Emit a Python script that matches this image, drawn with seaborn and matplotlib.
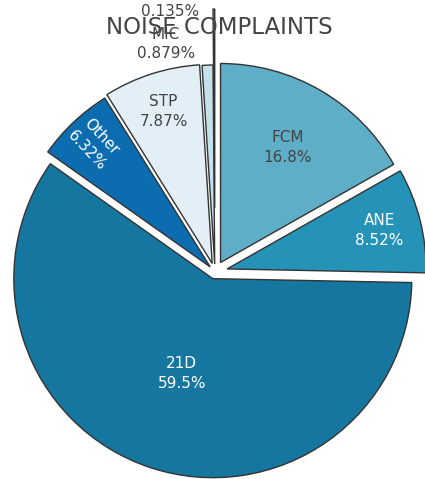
import numpy as np
import matplotlib
matplotlib.use("Agg")
import matplotlib.pyplot as plt
import seaborn as sns

# ---- data ----
labels = ["FCM", "ANE", "21D", "Other", "STP", "MIC", "HPD"]
values = [16.8, 8.52, 59.5, 6.32, 7.87, 0.879, 0.135]
pct_text = ["16.8%", "8.52%", "59.5%", "6.32%", "7.87%", "0.879%", "0.135%"]
title = "NOISE COMPLAINTS"

# ---- style ----
colors = ["#5faec8", "#2593b8", "#1577a0", "#0b6db0", "#e3eff6", "#c5e1ec", "#a9d2e2"]
text_colors = ["#444444", "#ffffff", "#ffffff", "#ffffff", "#444444", "#444444", "#444444"]
pulls_px = [11, 12.5, 7, 7, 9, 8, 64]
label_radius = [0.67, 0.79, 0.50, 0.85, 0.80, None, None]
rotate_radial = [False, False, False, True, False, False, False]
outside_anchor = {5: (166, 44), 6: (170, 11)}  # pixel anchors (x, y from top)
show_name = [True, True, True, True, True, True, False]  # name of tiny slice is off-canvas

W, H = 425, 479
CX, CY = 215, 272
R = 199

sns.set_theme(style="white")
plt.rcParams["font.family"] = ["DejaVu Sans"]

fig = plt.figure(figsize=(W / 100, H / 100), dpi=100)
ax = fig.add_axes([0, 0, 1, 1])

wedges, _ = ax.pie(
    values,
    colors=colors,
    explode=pulls_px,
    startangle=90,
    counterclock=False,
    center=(CX, H - CY),
    radius=R,
    wedgeprops=dict(edgecolor="#333333", linewidth=1.0),
    frame=True,
)
ax.set_xlim(0, W)
ax.set_ylim(0, H)
ax.set_aspect("equal")
ax.axis("off")

for i, w in enumerate(wedges):
    t1, t2 = w.theta1, w.theta2
    tm = np.deg2rad((t1 + t2) / 2)
    cx, cy = w.center
    txt = f"{labels[i]}\n{pct_text[i]}" if show_name[i] else pct_text[i]
    if label_radius[i] is not None:
        r = label_radius[i] * R
        x = cx + r * np.cos(tm)
        y = cy + r * np.sin(tm)
        rot = 0
        if rotate_radial[i]:
            rot = np.rad2deg(tm) - 180
        ax.text(x, y, txt, ha="center", va="center", fontsize=11,
                color=text_colors[i], rotation=rot, rotation_mode="anchor",
                linespacing=1.4)
    else:
        ax_x, ax_y = outside_anchor[i]
        ax.text(ax_x, H - ax_y, txt, ha="center", va="center", fontsize=11,
                color=text_colors[i], linespacing=1.4, clip_on=False)

fig.text(219 / W, 1 - 27 / H, title, ha="center", va="center",
         fontsize=16.5, color="#444444")

fig.savefig("out.png", dpi=100)
